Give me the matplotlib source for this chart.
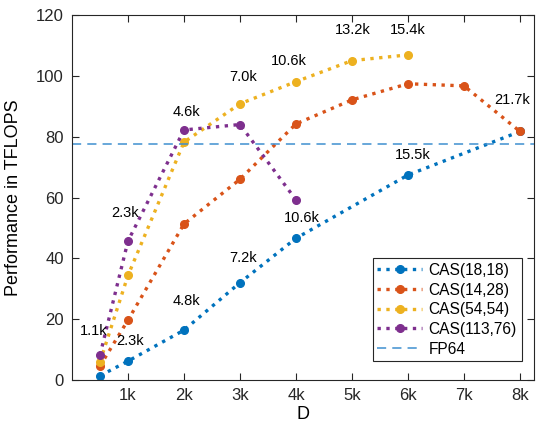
import matplotlib.pyplot as plt

plt.rcParams['font.family'] = ['Liberation Sans', 'DejaVu Sans']

d_blue = [0.5, 1, 2, 3, 4, 6, 8]
cas_18_18 = [1.4, 6.2, 16.4, 32.0, 46.6, 67.4, 81.7]
d_red = [0.5, 1, 2, 3, 4, 5, 6, 7, 8]
cas_14_28 = [4.6, 19.7, 51.3, 66.0, 84.2, 92.1, 97.4, 96.7, 81.7]
d_yellow = [0.5, 1, 2, 3, 4, 5, 6]
cas_54_54 = [6.0, 34.4, 78.2, 90.8, 98.1, 105.0, 106.9]
d_purple = [0.5, 1, 2, 3, 4]
cas_113_76 = [8.2, 45.7, 82.2, 84.0, 59.2]
fp64 = 77.7

# etykiety rozmiaru (x, y, tekst)
etykiety = [
    (0.38, 16.1, '1.1k'), (1.04, 12.8, '2.3k'), (2.04, 26.0, '4.8k'),
    (3.05, 40.0, '7.2k'), (4.1, 53.3, '10.6k'), (6.09, 74.0, '15.5k'),
    (7.86, 92.0, '21.7k'), (0.95, 55.0, '2.3k'), (2.05, 88.0, '4.6k'),
    (3.05, 99.7, '7.0k'), (3.88, 105.0, '10.6k'), (5.02, 115.0, '13.2k'),
    (6.0, 115.0, '15.4k'),
]

fig = plt.figure(figsize=(5.36, 4.26), dpi=100)
ax = fig.add_axes([72 / 536, 46 / 426, 462 / 536, 365 / 426])

styl = dict(linestyle=':', linewidth=2.4, marker='o', markersize=5.5)
ax.plot(d_blue, cas_18_18, color='#0072BD', label='CAS(18,18)', **styl)
ax.plot(d_red, cas_14_28, color='#D95319', label='CAS(14,28)', **styl)
ax.plot(d_yellow, cas_54_54, color='#EDB120', label='CAS(54,54)', **styl)
ax.plot(d_purple, cas_113_76, color='#7E2F8E', label='CAS(113,76)', **styl)
ax.axhline(fp64, color='#3E8FD0', linestyle=(0, (6, 4)), linewidth=1.1, label='FP64')

for x, y, t in etykiety:
    ax.text(x, y, t, ha='center', va='center', fontsize=10.5)

ax.set_xlim(0, 8.25)
ax.set_ylim(0, 120)
ax.set_xticks([1, 2, 3, 4, 5, 6, 7, 8])
ax.set_xticklabels(['1k', '2k', '3k', '4k', '5k', '6k', '7k', '8k'])
ax.set_yticks([0, 20, 40, 60, 80, 100, 120])
ax.tick_params(direction='in', top=True, right=True, labelsize=12, colors='#262626', length=5, pad=6)
for s in ax.spines.values():
    s.set_color('#262626')
    s.set_linewidth(0.8)
ax.set_xlabel('D', fontsize=13, labelpad=2)
ax.set_ylabel('Performance in TFLOPS', fontsize=13, labelpad=10)

leg = ax.legend(loc='lower right', fontsize=11.2, fancybox=False, framealpha=1,
                edgecolor='#262626', handlelength=2.9, borderpad=0.3,
                labelspacing=0.3, handletextpad=0.4, bbox_to_anchor=(0.99, 0.03))
leg.get_frame().set_linewidth(0.8)

fig.savefig('out.png', dpi=100)
